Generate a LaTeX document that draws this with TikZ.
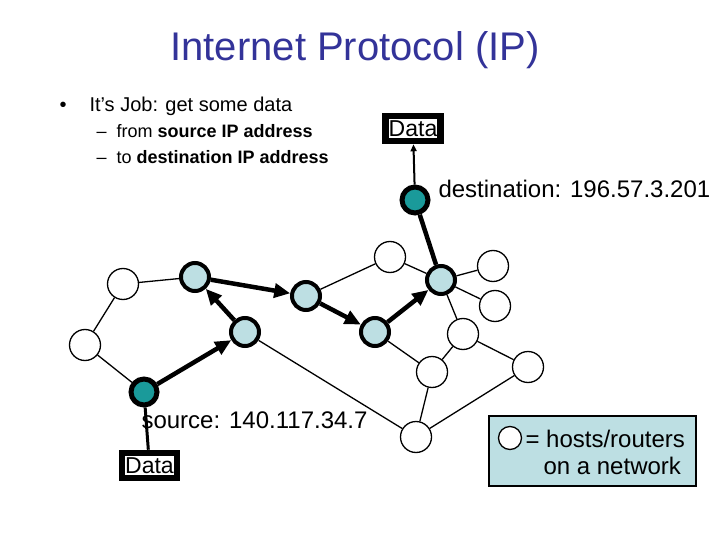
\documentclass[tikz,border=0pt]{standalone}
\usepackage{fontspec}
\setmainfont{Liberation Sans}
\usetikzlibrary{arrows.meta}
\definecolor{titleblue}{HTML}{333399}
\definecolor{routerfill}{HTML}{BDDFE3}
\definecolor{endfill}{HTML}{1A9A9A}

\begin{document}
\begin{tikzpicture}[
  x=1pt, y=-1pt,
  font=\fontsize{24}{28}\selectfont,
  host/.style={
    circle,
    draw=black,
    fill=white,
    line width=1.3pt,
    minimum size=31pt,
    inner sep=0pt
  },
  router/.style={
    host,
    fill=routerfill,
    line width=4pt,
    minimum size=28pt
  },
  endpt/.style={
    host,
    fill=endfill,
    line width=5pt,
    minimum size=26pt
  },
  databox/.style={
    draw=black,
    fill=white,
    line width=6.5pt,
    inner xsep=3pt,
    inner ysep=4.5pt,
    font=\fontsize{23}{26}\selectfont
  },
  link/.style={
    draw=black,
    line width=1.3pt
  },
  hop/.style={
    draw=black,
    line width=4.5pt,
    -{Triangle[length=16pt,width=14pt]}
  },
  legendbox/.style={
    draw=black,
    fill=routerfill,
    line width=2pt,
    minimum width=207pt,
    minimum height=70pt,
    inner sep=0pt
  }
]
\useasboundingbox (0,0) rectangle (720,540);

% Title and bullets
\node[text=titleblue,font=\fontsize{40}{44}\selectfont] (title) at (355,50) {Internet Protocol (IP)};
\node[anchor=base west,font=\fontsize{20}{24}\selectfont] (bul) at (56,112) {\textbullet};
\node[anchor=base west,font=\fontsize{20}{24}\selectfont] (job) at (86,112) {It’s Job: get some data};
\node[anchor=base west,font=\fontsize{18}{21}\selectfont] (from) at (93,138) {–\hspace{10pt}from \textbf{source IP address}};
\node[anchor=base west,font=\fontsize{18}{21}\selectfont] (to) at (93,164) {–\hspace{10pt}to \textbf{destination IP address}};

% Network nodes
\node[host] (hTL) at (123,284) {};
\node[host] (hL) at (85,345) {};
\node[endpt] (src) at (144,392) {};
\node[router] (rA) at (195,277) {};
\node[router] (rB) at (245,332) {};
\node[router] (rC) at (306,296) {};
\node[router] (rD) at (375,332) {};
\node[host] (hM) at (390,257) {};
\node[router] (rE) at (441,280) {};
\node[host] (hR1) at (493,266) {};
\node[host] (hR2) at (495,306) {};
\node[host] (hR3) at (463,334) {};
\node[host] (hR4) at (432,372) {};
\node[host] (hR5) at (528,367) {};
\node[host] (hBot) at (416,437) {};
\node[endpt] (dst) at (415,200) {};

% Plain links
\draw[link] (hTL) -- (rA);
\draw[link] (hTL) -- (hL);
\draw[link] (hL) -- (src);
\draw[link] (rB) -- (hBot);
\draw[link] (rC) -- (hM);
\draw[link] (hM) -- (rE);
\draw[link] (rE) -- (hR1);
\draw[link] (rE) -- (hR2);
\draw[link] (rE) -- (hR3);
\draw[link] (rD) -- (hR4);
\draw[link] (hR3) -- (hR4);
\draw[link] (hR3) -- (hR5);
\draw[link] (hR4) -- (hBot);
\draw[link] (hR5) -- (hBot);

% Route taken by the packet
\draw[hop] (src) -- (rB);
\draw[hop] (rB) -- (rA);
\draw[hop] (rA) -- (rC);
\draw[hop] (rC) -- (rD);
\draw[hop] (rD) -- (rE);
\draw[line width=4.5pt] (rE) -- (dst);

% Data packets and addresses
\node[databox] (dataTop) at (413,128.5) {Data};
\node[databox] (dataBot) at (149.5,465.5) {Data};
\draw[line width=2pt,-{Triangle[length=7pt,width=6pt]}] (dst) -- (dataTop);
\draw[line width=3pt] (src) -- (dataBot);
\node[anchor=base west] (dstlbl) at (435,198) {destination: 196.57.3.201};
\node[anchor=base west] (srclbl) at (138,428) {source: 140.117.34.7};

% Legend
\node[legendbox] (legend) at (592.5,451) {};
\node[host,minimum size=23pt] (legcirc) at (510,438) {};
\node[anchor=base west] (leg1) at (522,447) {= hosts/routers};
\node[anchor=base west] (leg2) at (540,474) {on a network};

\end{tikzpicture}
\end{document}
